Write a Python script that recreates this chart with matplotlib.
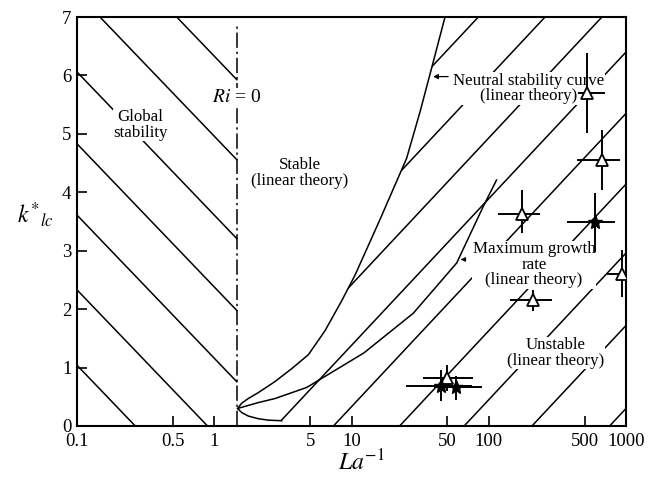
import matplotlib
matplotlib.use("Agg")
import matplotlib.pyplot as plt
import numpy as np
from matplotlib.patches import Polygon

plt.rcParams['font.family'] = ['Liberation Serif', 'DejaVu Serif']
plt.rcParams['mathtext.fontset'] = 'stix'

# neutral stability curve (upper branch from the top, round the nose, lower branch)
neutral_x = [48, 39.5, 31.6, 25.2, 16.1, 10.6, 8.47, 6.41, 4.85, 3.66, 2.77, 2.09, 1.77, 1.585, 1.48,
             1.585, 1.77, 2.09, 2.48, 3.10]
neutral_y = [7.0, 6.24, 5.38, 4.58, 3.53, 2.58, 2.14, 1.63, 1.22, 0.98, 0.76, 0.57, 0.47, 0.39, 0.30,
             0.23, 0.17, 0.125, 0.10, 0.09]

# maximum growth rate curve
growth_x = [1.48, 2.09, 2.77, 4.72, 6.97, 12.3, 28.2, 58.4, 91.3, 114]
growth_y = [0.30, 0.40, 0.47, 0.66, 0.90, 1.25, 1.93, 2.79, 3.76, 4.21]

ri_zero = 1.46

# measurements: open triangles
tri_x = [516, 664, 174, 211, 929, 50]
tri_y = [5.70, 4.55, 3.63, 2.16, 2.61, 0.82]
tri_xlo = [447, 437, 117, 143, 723, 33]
tri_xhi = [701, 904, 236, 288, 1300, 77]
tri_ylo = [5.01, 4.04, 3.30, 1.96, 2.21, 0.60]
tri_yhi = [6.38, 5.07, 4.04, 2.33, 3.01, 1.05]

# measurements: stars
star_x = [594, 45, 58]
star_y = [3.50, 0.68, 0.66]
star_xlo = [370, 25, 40]
star_xhi = [832, 75, 89]
star_ylo = [2.98, 0.42, 0.45]
star_yhi = [3.99, 0.95, 0.85]

# hatching: left (global stability) intercepts at x=0.1, right (unstable) intercepts at x=1000
left_hatch = [1.04, 2.33, 3.61, 4.83, 6.06, 7.41, 8.78]
left_slope = -2.45
right_hatch = [0.30, 1.72, 2.96, 4.14, 5.35, 6.40, 7.44, 8.48, 9.70]
right_slope = 2.51

xticks = [0.1, 0.5, 1, 5, 10, 50, 100, 500, 1000]
xticklabels = ['0.1', '0.5', '1', '5', '10', '50', '100', '500', '1000']

fig = plt.figure(figsize=(6.61, 4.83), dpi=100)
ax = fig.add_axes([77 / 661, 57 / 483, 549 / 661, 409 / 483])
ax.set_xscale('log')
ax.set_xlim(0.1, 1000)
ax.set_ylim(0, 7)

lw = 1.1
# left hatching, stopped at the Ri = 0 line
for a in left_hatch:
    ax.plot([0.1, ri_zero], [a, a + left_slope * (np.log10(ri_zero) + 1)], color='black', lw=lw, zorder=2)

# right hatching, clipped to the unstable side of the neutral curve
clip_pts = list(zip(neutral_x, neutral_y))
clip_pts += [(neutral_x[-1], -1), (1e4, -1), (1e4, 10), (neutral_x[0], 10)]
clip = Polygon(clip_pts, closed=True, transform=ax.transData, facecolor='none', edgecolor='none')
ax.add_patch(clip)
for c in right_hatch:
    ln, = ax.plot([0.1, 1000], [c - 4 * right_slope, c], color='black', lw=lw, zorder=2)
    ln.set_clip_path(clip)

ax.plot(neutral_x, neutral_y, color='black', lw=lw, zorder=2)
ax.plot(growth_x, growth_y, color='black', lw=lw, zorder=2)
ax.plot([ri_zero, ri_zero], [0, 6.85], color='black', lw=1.1, dashes=(10, 2.5, 1.5, 2.5), zorder=2)

fs = 12.2
box = dict(facecolor='white', edgecolor='none', pad=0.5)
ax.text(0.29, 5.15, 'Global\nstability', ha='center', va='center', fontsize=fs, linespacing=0.95,
        bbox=box, zorder=3)
ax.text(ri_zero, 5.62, r'$Ri$ = 0', ha='center', va='center', fontsize=14, bbox=box, zorder=3)
ax.text(4.22, 4.33, 'Stable\n(linear theory)', ha='center', va='center', fontsize=fs, linespacing=0.95,
        bbox=box, zorder=3)
ax.text(196, 5.78, 'Neutral stability curve\n(linear theory)', ha='center', va='center', fontsize=fs,
        linespacing=0.95, bbox=box, zorder=3)
ax.annotate('', xy=(37.5, 5.98), xytext=(53, 5.98),
            arrowprops=dict(arrowstyle='-|>', color='black', lw=0.9, mutation_scale=7), zorder=3)
ax.text(214, 2.76, 'Maximum growth\nrate\n(linear theory)', ha='center', va='center', fontsize=fs,
        linespacing=0.95, bbox=box, zorder=3)
ax.annotate('', xy=(59.7, 2.85), xytext=(68, 2.85),
            arrowprops=dict(arrowstyle='-|>', color='black', lw=0.9, mutation_scale=6), zorder=3)
ax.text(309, 1.25, 'Unstable\n(linear theory)', ha='center', va='center', fontsize=fs,
        linespacing=0.95, bbox=box, zorder=3)

# error bars and markers
tx, ty = np.array(tri_x, float), np.array(tri_y)
ax.errorbar(tx, ty, xerr=[tx - tri_xlo, np.array(tri_xhi) - tx], yerr=[ty - tri_ylo, np.array(tri_yhi) - ty],
            fmt='none', ecolor='black', elinewidth=1.4, capsize=0, zorder=4)
sx, sy = np.array(star_x, float), np.array(star_y)
ax.errorbar(sx, sy, xerr=[sx - star_xlo, np.array(star_xhi) - sx], yerr=[sy - star_ylo, np.array(star_yhi) - sy],
            fmt='none', ecolor='black', elinewidth=1.4, capsize=0, zorder=4)
ax.plot(tx, ty, linestyle='none', marker='^', ms=8, mfc='white', mec='black', mew=1.3, zorder=5)
ax.plot(sx, sy, linestyle='none', marker='*', ms=10, color='black', zorder=5)

ax.set_xticks(xticks)
ax.set_xticklabels(xticklabels)
ax.xaxis.set_minor_locator(matplotlib.ticker.NullLocator())
ax.set_yticks(range(0, 8))
ax.tick_params(direction='in', length=7, width=1.2, labelsize=13.5, top=False, right=False)
ax.tick_params(axis='x', pad=5)
ax.tick_params(axis='y', pad=4)
for s in ax.spines.values():
    s.set_linewidth(1.5)

ax.text(0.517, -0.09, r'$La^{-1}$', transform=ax.transAxes, ha='center', va='center', fontsize=17)
ax.text(-0.076, 0.516, r'$k^{*}{}_{lc}$', transform=ax.transAxes, ha='center', va='center', fontsize=17)

fig.savefig('out.png', dpi=100)
